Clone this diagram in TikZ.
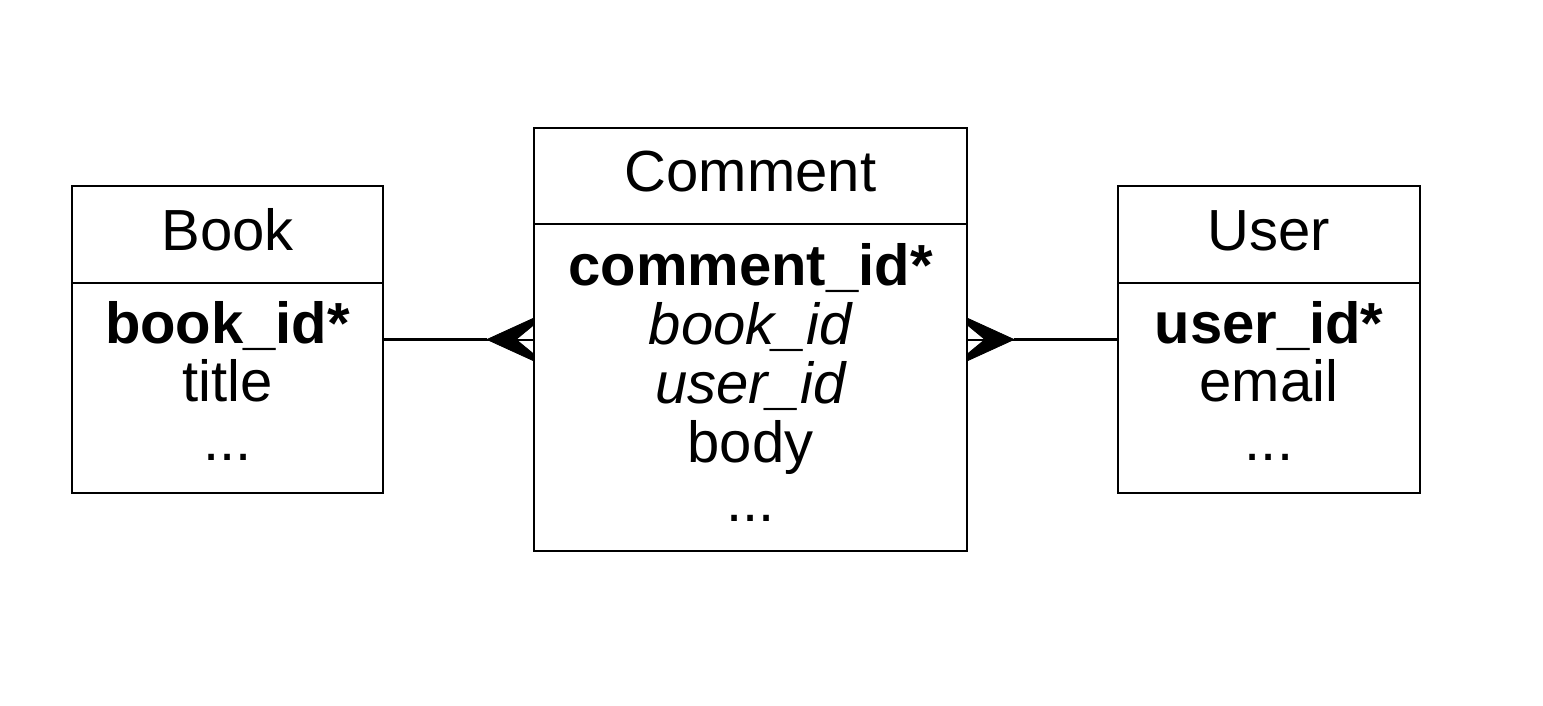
\documentclass[tikz,border=0pt]{standalone}
\usepackage{fontspec}
\setmainfont{Liberation Sans}
\usetikzlibrary{calc}

\tikzset{
  entity/.style={draw, line width=2pt, inner sep=0pt},
  field/.style={anchor=base, inner sep=0pt, font=\fontsize{58}{60}\selectfont},
  link/.style={line width=3pt},
  foot/.style={fill=black, draw=black, line width=0.8pt, line join=miter},
}

\begin{document}
\begin{tikzpicture}[x=1pt, y=-1pt]
	\useasboundingbox[fill=white] (0,0) rectangle (1543,706);
	% boxes
	\node[entity, minimum width=311pt, minimum height=307pt] (book) at (227.5,339.5) {};
	\node[entity, minimum width=433pt, minimum height=423pt] (comment) at (750.5,339.5) {};
	\node[entity, minimum width=302pt, minimum height=307pt] (user) at (1269,339.5) {};
	\draw[line width=2pt] (book.west |- 0,283) -- (book.east |- 0,283);
	\draw[line width=2pt] (comment.west |- 0,224) -- (comment.east |- 0,224);
	\draw[line width=2pt] (user.west |- 0,283) -- (user.east |- 0,283);
	% Book
	\node[field] (book-head) at (227.5,250) {Book};
	\node[field] (book-id) at (227.5,343) {\bfseries book\_id*};
	\node[field] (book-title) at (227.5,401) {title};
	\node[field] (book-more) at (227.5,460) {...};
	% Comment
	\node[field] (comment-head) at (750.5,192) {Comment};
	\node[field] (comment-id) at (750.5,285) {\bfseries comment\_id*};
	\node[field] (comment-book) at (750.5,344) {\itshape book\_id};
	\node[field] (comment-user) at (750.5,403) {\itshape user\_id};
	\node[field] (comment-body) at (750.5,462) {body};
	\node[field] (comment-more) at (750.5,521) {...};
	% User
	\node[field] (user-head) at (1269,250) {User};
	\node[field] (user-id) at (1269,343) {\bfseries user\_id*};
	\node[field] (user-email) at (1269,401) {email};
	\node[field] (user-more) at (1269,460) {...};
	% relations, many side at comment
	\coordinate (bc) at ($(comment.west)+(-46,0)$);
	\draw[link] (book.east) -- (bc);
	\draw[line width=2pt] (bc) -- (comment.west);
	\fill[foot] (bc) -- ($(comment.west)+(0,-21)$) -- ($(comment.west)+(0,-14)$)
		-- ($(comment.west)+(-17,0)$) -- ($(comment.west)+(0,14)$)
		-- ($(comment.west)+(0,21)$) -- cycle;
	\coordinate (uc) at ($(comment.east)+(46,0)$);
	\draw[link] (user.west) -- (uc);
	\draw[line width=2pt] (uc) -- (comment.east);
	\fill[foot] (uc) -- ($(comment.east)+(0,-21)$) -- ($(comment.east)+(0,-14)$)
		-- ($(comment.east)+(17,0)$) -- ($(comment.east)+(0,14)$)
		-- ($(comment.east)+(0,21)$) -- cycle;
\end{tikzpicture}
\end{document}
